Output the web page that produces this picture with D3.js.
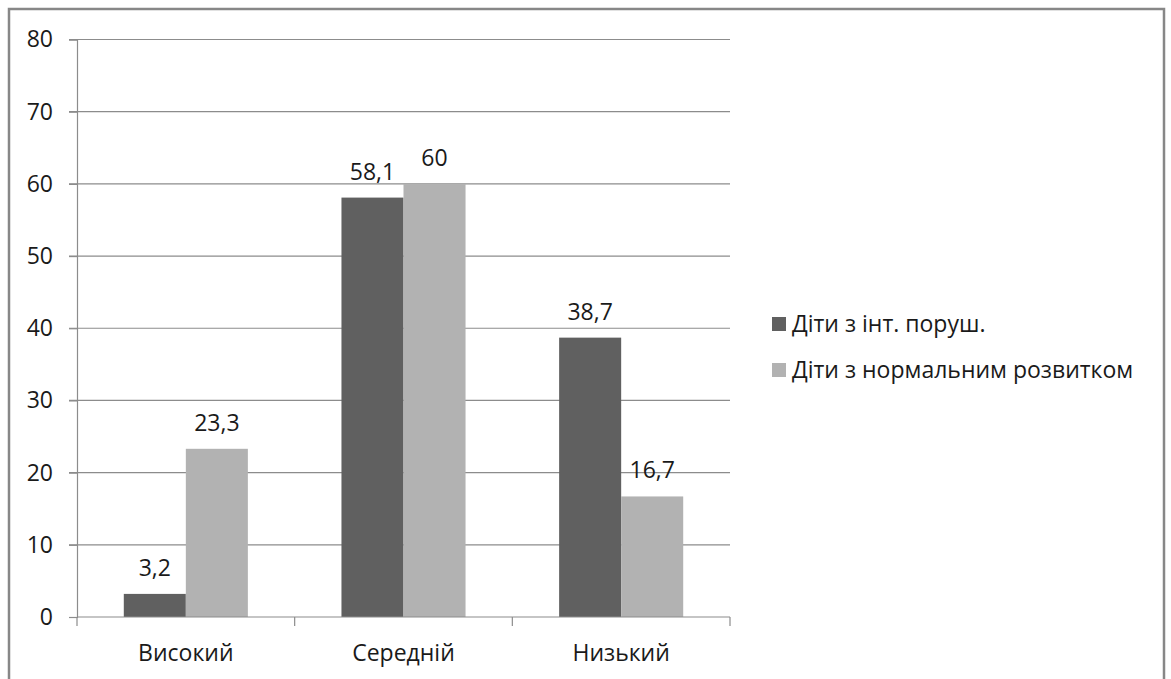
<!DOCTYPE html>
<html><head><meta charset="utf-8">
<script src="https://cdn.jsdelivr.net/npm/d3@7"></script>
<style>
body{margin:0;background:#fff;}
svg{display:block;}
text{font-family:"Open Sans",sans-serif;fill:#1a1a1a;}
</style></head>
<body>
<svg id="chart" width="1171" height="679"></svg>
<script>
const categories = ["Високий", "Середній", "Низький"];
const seriesNames = ["Діти з інт. поруш.", "Діти з нормальним розвитком"];
const seriesImpaired = [3.2, 58.1, 38.7];
const seriesNormal = [23.3, 60, 16.7];
const yTicks = [0, 10, 20, 30, 40, 50, 60, 70, 80];
const colors = ["#606060", "#b2b2b2"];

const svg = d3.select("#chart");
const fontSize = 23;

// frame
svg.append("rect").attr("x", 9).attr("y", 9).attr("width", 1155).attr("height", 700)
  .attr("fill", "none").attr("stroke", "#878787").attr("stroke-width", 2.5);

const mLeft = 77, mRight = 730, mTop = 39.5, mBottom = 617;
const y = d3.scaleLinear().domain([0, 80]).range([mBottom, mTop]);
const x = d3.scaleBand().domain(categories).range([mLeft, mRight]).paddingInner(0.43).paddingOuter(0.215);
const xs = d3.scaleBand().domain([0, 1]).range([0, x.bandwidth()]);

// gridlines
svg.append("g").selectAll("line").data(yTicks.filter(d => d > 0)).join("line")
  .attr("x1", mLeft - 8).attr("x2", mRight)
  .attr("y1", d => y(d)).attr("y2", d => y(d))
  .attr("stroke", "#8c8c8c").attr("stroke-width", 1.2);

// y axis
const yAxis = d3.axisLeft(y).tickValues(yTicks).tickSize(8).tickPadding(16).tickFormat(d3.format("d"));
const gy = svg.append("g").attr("transform", `translate(${mLeft},0)`).call(yAxis);
gy.select(".domain").attr("stroke", "#8c8c8c").attr("stroke-width", 1.2);
gy.selectAll(".tick line").attr("stroke", "#8c8c8c").attr("stroke-width", 1.2);
gy.selectAll(".tick text").style("font-size", fontSize + "px").attr("fill", "#1a1a1a").attr("font-family", "Open Sans");

// bars
const data = categories.map((c, i) => ({ c, vals: [seriesImpaired[i], seriesNormal[i]] }));
const groups = svg.append("g").selectAll("g").data(data).join("g")
  .attr("transform", d => `translate(${x(d.c)},0)`);
groups.selectAll("rect").data(d => d.vals.map((v, k) => ({ v, k }))).join("rect")
  .attr("x", d => xs(d.k)).attr("width", xs.bandwidth())
  .attr("y", d => y(d.v)).attr("height", d => y(0) - y(d.v))
  .attr("fill", d => colors[d.k]);
groups.selectAll("text").data(d => d.vals.map((v, k) => ({ v, k }))).join("text")
  .attr("x", d => xs(d.k) + xs.bandwidth() / 2)
  .attr("y", d => y(d.v) - 18)
  .attr("text-anchor", "middle")
  .style("font-size", fontSize + "px")
  .text(d => String(d.v).replace(".", ","));

// x axis
const xLin = d3.scaleLinear().domain([0, 3]).range([mLeft, mRight]);
const gx = svg.append("g");
gx.append("line").attr("x1", mLeft).attr("x2", mRight).attr("y1", mBottom).attr("y2", mBottom)
  .attr("stroke", "#8c8c8c").attr("stroke-width", 1.2);
gx.selectAll("line.t").data(d3.range(4)).join("line").attr("class", "t")
  .attr("x1", d => xLin(d)).attr("x2", d => xLin(d))
  .attr("y1", mBottom).attr("y2", mBottom + 9)
  .attr("stroke", "#8c8c8c").attr("stroke-width", 1.2);
gx.selectAll("text").data(categories).join("text")
  .attr("x", d => x(d) + x.bandwidth() / 2).attr("y", 661)
  .attr("text-anchor", "middle").style("font-size", fontSize + "px").text(d => d);

// legend
const lg = svg.append("g").selectAll("g").data(seriesNames).join("g")
  .attr("transform", (d, i) => `translate(772,${324 + i * 46})`);
lg.append("rect").attr("x", 0).attr("y", -7).attr("width", 14).attr("height", 14).attr("fill", (d, i) => colors[i]);
lg.append("text").attr("x", 20).attr("y", 0).attr("dy", "0.35em").style("font-size", fontSize + "px").text(d => d);
</script>
</body></html>
